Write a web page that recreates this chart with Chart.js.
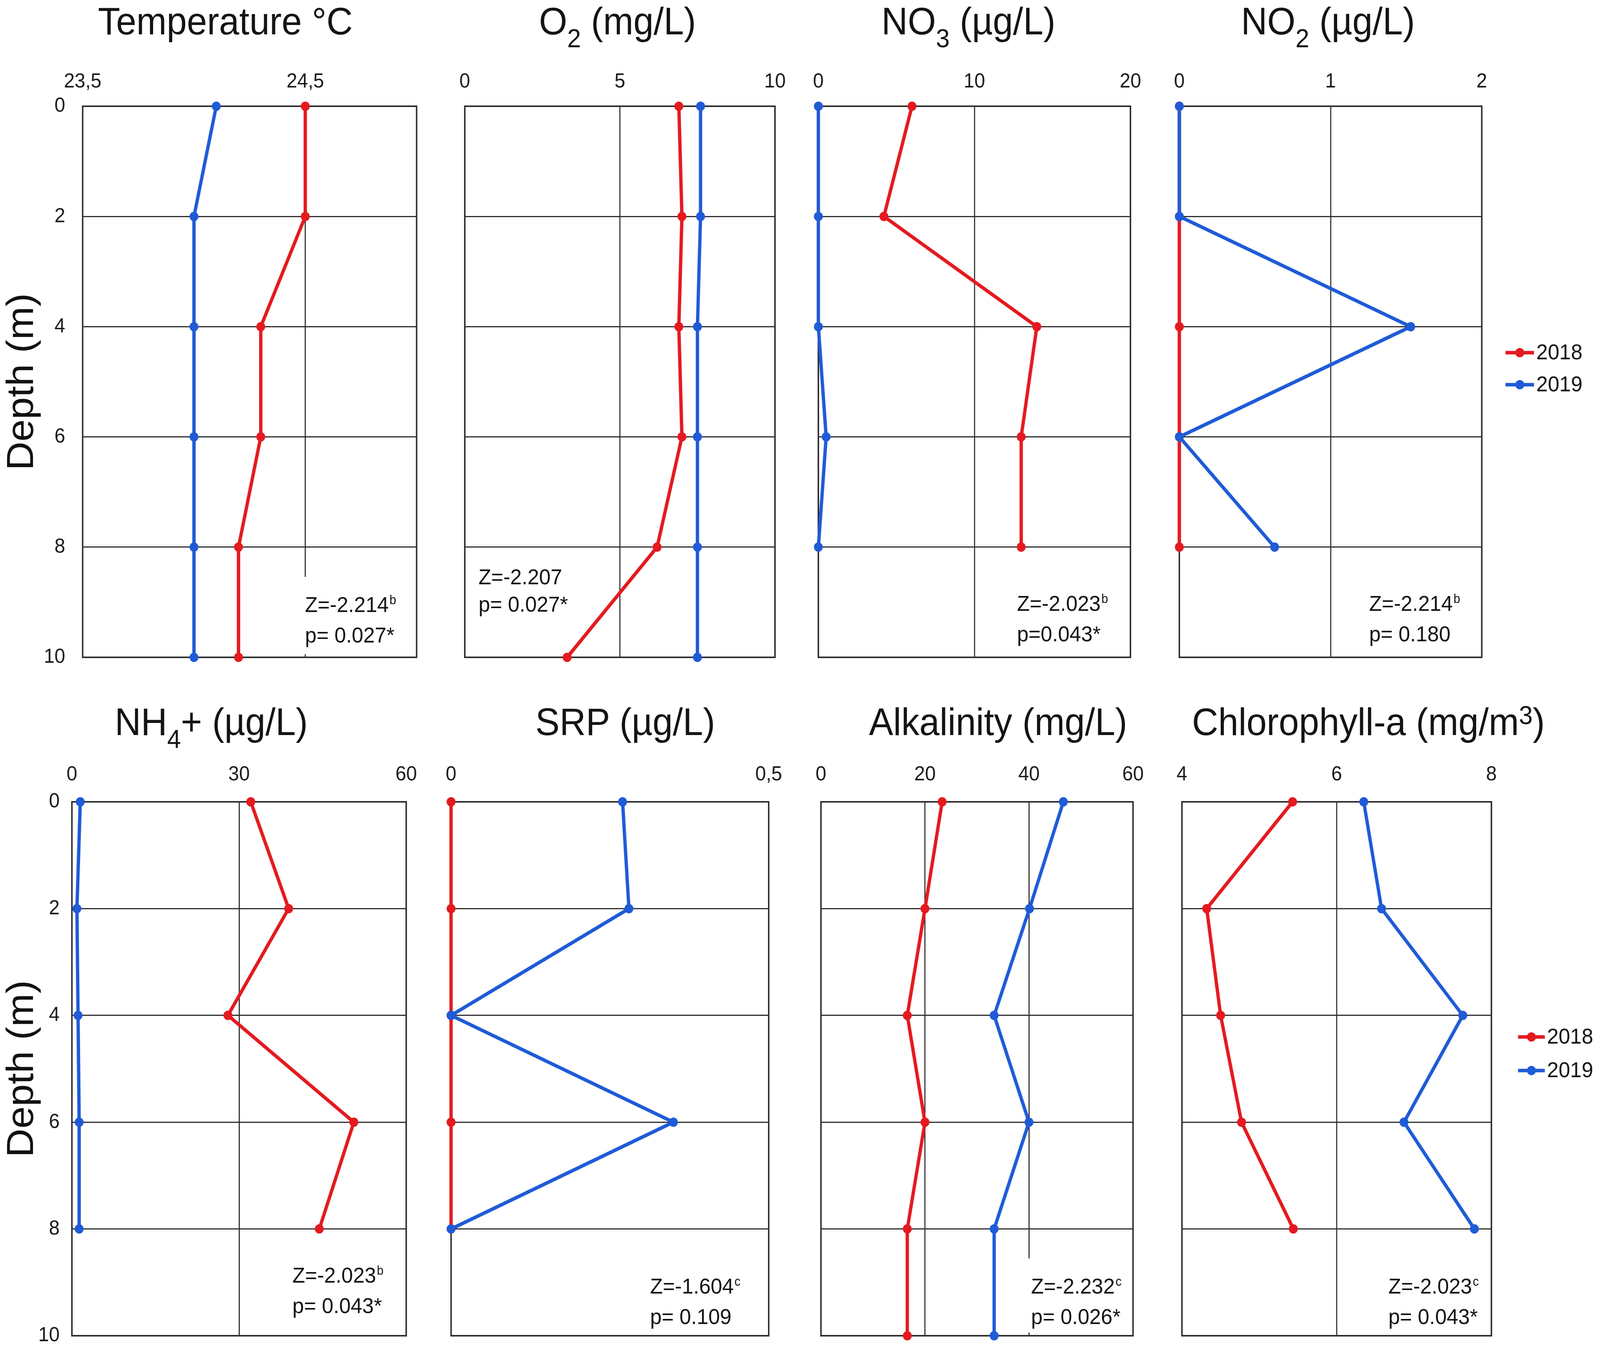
<!DOCTYPE html>
<html>
<head>
<meta charset="utf-8">
<script src="https://cdn.jsdelivr.net/npm/chart.js@4.4.0/dist/chart.umd.min.js"></script>
<style>
html, body { margin: 0; padding: 0; background: #fff; overflow: hidden; }
#fig { position: relative; width: 4317px; height: 3477px; background: #fff; overflow: hidden;
       transform-origin: 0 0;
       font-family: "Liberation Sans", Arial, sans-serif; color: #141414; }
#fig canvas { position: absolute; }
.titulo { position: absolute; font-size: 98px; line-height: 98px; white-space: nowrap; transform: translateX(-50%); }
.titulo .sub { font-size: 0.68em; position: relative; top: 33px; }
.titulo .sup { font-size: 0.68em; position: relative; top: -28px; }
.nota { position: absolute; font-size: 56px; line-height: 70px; white-space: nowrap; padding: 0 14px; }
.nota .sup { font-size: 0.58em; position: relative; top: -20px; margin-left: 2px; }
.nota.caixa { background: #fff; }
</style>
</head>
<body>
<div id="fig"></div>
<script>
// profundidades (m)
const profundidade = [0, 2, 4, 6, 8, 10];
const profundidadeAte8 = [0, 2, 4, 6, 8];
const ticksProfundidade = [0, 2, 4, 6, 8, 10];

// valores
const temp2018 = [24.5, 24.5, 24.3, 24.3, 24.2, 24.2];
const temp2019 = [24.1, 24.0, 24.0, 24.0, 24.0, 24.0];
const o2_2018 = [6.9, 7.0, 6.9, 7.0, 6.2, 3.3];
const o2_2019 = [7.6, 7.6, 7.5, 7.5, 7.5, 7.5];
const no3_2018 = [6.0, 4.2, 14.0, 13.0, 13.0];
const no3_2019 = [0, 0, 0, 0.5, 0];
const no2_2018 = [0, 0, 0, 0, 0];
const no2_2019 = [0, 0, 1.53, 0, 0.63];
const nh4_2018 = [32.1, 38.9, 28.0, 50.6, 44.4];
const nh4_2019 = [1.5, 0.9, 1.1, 1.3, 1.3];
const srp2018 = [0, 0, 0, 0, 0];
const srp2019 = [0.27, 0.28, 0, 0.35, 0];
const alc2018 = [23.3, 20.0, 16.6, 20.0, 16.6, 16.6];
const alc2019 = [46.6, 40.1, 33.3, 40.0, 33.3, 33.3];
const chl2018 = [5.43, 4.32, 4.5, 4.77, 5.44];
const chl2019 = [6.35, 6.58, 7.63, 6.87, 7.78];

// ticks do eixo x (topo)
const ticksTemp = [23.5, 24.5];
const ticksO2 = [0, 5, 10];
const ticksNO3 = [0, 10, 20];
const ticksNO2 = [0, 1, 2];
const ticksNH4 = [0, 30, 60];
const ticksSRP = [0, 0.5];
const ticksAlc = [0, 20, 40, 60];
const ticksChl = [4, 6, 8];

// textos
const titulos = [
  'Temperature °C',
  'O<span class="sub">2</span> (mg/L)',
  'NO<span class="sub">3</span> (µg/L)',
  'NO<span class="sub">2</span> (µg/L)',
  'NH<span class="sub">4</span>+ (µg/L)',
  'SRP (µg/L)',
  'Alkalinity (mg/L)',
  'Chlorophyll-a (mg/m<span class="sup">3</span>)'
];
const notas = [
  ['Z=-2.214', 'b', 'p= 0.027*'],
  ['Z=-2.207', '', 'p= 0.027*'],
  ['Z=-2.023', 'b', 'p=0.043*'],
  ['Z=-2.214', 'b', 'p= 0.180'],
  ['Z=-2.023', 'b', 'p= 0.043*'],
  ['Z=-1.604', 'c', 'p= 0.109'],
  ['Z=-2.232', 'c', 'p= 0.026*'],
  ['Z=-2.023', 'c', 'p= 0.043*']
];

// posicoes na figura (4317 x 3477)
const linhas = [
  { topo: 272, base: 1683, tituloBase: 88, tickPad: 31, yPad: 47 },
  { topo: 2053, base: 3420, tituloBase: 1882, tickPad: 38, yPad: 33 }
];
const colunas = [
  [[223, 1124], [1254, 2091], [2208, 3050], [3182, 3998]],
  [[194, 1096], [1217, 2074], [2215, 3057], [3189, 4024]]
];
const centrosTitulo = [[608, 1666, 2613, 3583], [570, 1687, 2693, 3692]];
const notasPos = [
  [[823, 1567], [1291, 1496], [2744, 1564], [3694, 1564]],
  [[789, 3284], [1754, 3312], [2782, 3312], [3746, 3312]]
];
const legendaPos = [
  { x0: 64, x1: 141, xt: 147, y1: 631, y2: 713 },
  { x0: 72, x1: 144, xt: 150, y1: 602, y2: 688 }
];

const VERMELHO = '#e41a1f';
const AZUL = '#1f5bd6';
const GRADE = '#2e2e2e';

Chart.defaults.font.family = '"Liberation Sans", Arial, sans-serif';
Chart.defaults.color = '#141414';

const paineis = [
  { a2018: temp2018, a2019: temp2019, prof: profundidade, min: 23.5, max: 25, ticks: ticksTemp, caixa: true },
  { a2018: o2_2018, a2019: o2_2019, prof: profundidade, min: 0, max: 10, ticks: ticksO2 },
  { a2018: no3_2018, a2019: no3_2019, prof: profundidadeAte8, min: 0, max: 20, ticks: ticksNO3 },
  { a2018: no2_2018, a2019: no2_2019, prof: profundidadeAte8, min: 0, max: 2, ticks: ticksNO2 },
  { a2018: nh4_2018, a2019: nh4_2019, prof: profundidadeAte8, min: 0, max: 60, ticks: ticksNH4 },
  { a2018: srp2018, a2019: srp2019, prof: profundidadeAte8, min: 0, max: 0.5, ticks: ticksSRP },
  { a2018: alc2018, a2019: alc2019, prof: profundidade, min: 0, max: 60, ticks: ticksAlc, caixa: true },
  { a2018: chl2018, a2019: chl2019, prof: profundidadeAte8, min: 4, max: 8, ticks: ticksChl }
];

const fig = document.getElementById('fig');
// a janela pode ser menor que a figura: encaixa a figura inteira nela
const escalaX = Math.min(1, window.innerWidth / 4317);
const escalaY = Math.min(1, window.innerHeight / 3477);
fig.style.transform = 'scale(' + escalaX + ',' + escalaY + ')';

const formatarVirgula = v => String(v).replace('.', ',');

// moldura completa em volta da area do grafico
const moldura = {
  id: 'moldura',
  beforeDatasetsDraw(chart) {
    const { ctx, chartArea: a } = chart;
    ctx.save();
    ctx.strokeStyle = GRADE;
    ctx.lineWidth = 4;
    ctx.strokeRect(a.left, a.top, a.right - a.left, a.bottom - a.top);
    ctx.restore();
  }
};

// legenda a direita (linha com ponto + ano)
const legendaLateral = {
  id: 'legendaLateral',
  afterDraw(chart, args, opts) {
    const { ctx, chartArea: a } = chart;
    const ys = [opts.y1, opts.y2];
    chart.data.datasets.forEach((ds, i) => {
      const y = a.top + ys[i];
      const x0 = a.right + opts.x0, x1 = a.right + opts.x1;
      ctx.save();
      ctx.strokeStyle = ds.borderColor;
      ctx.lineWidth = 9;
      ctx.beginPath();
      ctx.moveTo(x0, y);
      ctx.lineTo(x1, y);
      ctx.stroke();
      ctx.fillStyle = ds.borderColor;
      ctx.beginPath();
      ctx.arc((x0 + x1) / 2, y, 12, 0, Math.PI * 2);
      ctx.fill();
      ctx.fillStyle = '#141414';
      ctx.font = '56px "Liberation Sans", Arial, sans-serif';
      ctx.textBaseline = 'middle';
      ctx.fillText(ds.label, a.right + opts.xt, y + 2);
      ctx.restore();
    });
  }
};

function criarGrafico(p, idx) {
  const linha = Math.floor(idx / 4), coluna = idx % 4;
  const lin = linhas[linha];
  const [esq, dir] = colunas[linha][coluna];
  const primeira = coluna === 0, ultima = coluna === 3;
  const cl = primeira ? 0 : esq - 100;
  const cr = ultima ? 4317 : dir + 100;
  const ct = lin.topo - 160, cb = lin.base + 100;

  const canvas = document.createElement('canvas');
  canvas.width = cr - cl;
  canvas.height = cb - ct;
  canvas.style.left = cl + 'px';
  canvas.style.top = ct + 'px';
  canvas.style.width = (cr - cl) + 'px';
  canvas.style.height = (cb - ct) + 'px';
  fig.appendChild(canvas);

  const serie = (valores, cor, rotulo, ordem) => ({
    label: rotulo,
    data: p.prof.map((d, i) => ({ x: valores[i], y: d })),
    borderColor: cor,
    backgroundColor: cor,
    pointBackgroundColor: cor,
    pointBorderColor: cor,
    borderWidth: 9,
    pointRadius: 11,
    pointBorderWidth: 2,
    pointHoverRadius: 11,
    tension: 0,
    clip: false,
    order: ordem
  });

  new Chart(canvas, {
    type: 'line',
    data: {
      datasets: [serie(p.a2018, VERMELHO, '2018', 1), serie(p.a2019, AZUL, '2019', 0)]
    },
    options: {
      responsive: false,
      animation: false,
      devicePixelRatio: 1,
      events: [],
      layout: { padding: { left: primeira ? 0 : 100, right: cr - dir, top: 60, bottom: 100 } },
      plugins: {
        legend: { display: false },
        tooltip: { enabled: false },
        legendaLateral: ultima ? legendaPos[linha] : false
      },
      scales: {
        x: {
          type: 'linear',
          position: 'top',
          min: p.min,
          max: p.max,
          afterBuildTicks: s => { s.ticks = p.ticks.map(v => ({ value: v })); },
          afterFit: s => { s.height = 100; },
          grid: { color: GRADE, lineWidth: 3, drawTicks: false },
          border: { display: false },
          ticks: {
            padding: lin.tickPad,
            font: { size: 52 },
            color: '#1a1a1a',
            maxRotation: 0,
            autoSkip: false,
            callback: v => formatarVirgula(v)
          }
        },
        y: {
          type: 'linear',
          reverse: true,
          min: 0,
          max: 10,
          afterBuildTicks: s => { s.ticks = ticksProfundidade.map(v => ({ value: v })); },
          afterFit: s => { s.width = primeira ? esq : 0; },
          grid: { color: GRADE, lineWidth: 3, drawTicks: false },
          border: { display: false },
          ticks: {
            display: primeira,
            padding: lin.yPad,
            font: { size: 52 },
            color: '#1a1a1a',
            autoSkip: false,
            callback: v => String(v)
          },
          title: {
            display: primeira,
            text: 'Depth (m)',
            font: { size: 102 },
            color: '#111',
            padding: 0
          }
        }
      }
    },
    plugins: [moldura, legendaLateral]
  });

  // titulo do painel
  const t = document.createElement('div');
  t.className = 'titulo';
  t.innerHTML = titulos[idx];
  t.style.left = centrosTitulo[linha][coluna] + 'px';
  t.style.top = (lin.tituloBase - 83) + 'px';
  fig.appendChild(t);

  // estatistica Z / p
  const [nx, ny] = notasPos[linha][coluna];
  const nota = notas[idx];
  const n = document.createElement('div');
  n.className = 'nota' + (p.caixa ? ' caixa' : '');
  n.innerHTML = nota[0] + (nota[1] ? '<span class="sup">' + nota[1] + '</span>' : '') + '<br>' + nota[2];
  n.style.left = (nx - 14) + 'px';
  if (p.caixa) {
    const topo = ny - 54 - 36;
    n.style.top = topo + 'px';
    n.style.paddingTop = '36px';
    n.style.height = (lin.base - 8 - topo - 36) + 'px';
  } else {
    n.style.top = (ny - 54) + 'px';
  }
  fig.appendChild(n);
}

paineis.forEach(criarGrafico);
</script>
</body>
</html>
